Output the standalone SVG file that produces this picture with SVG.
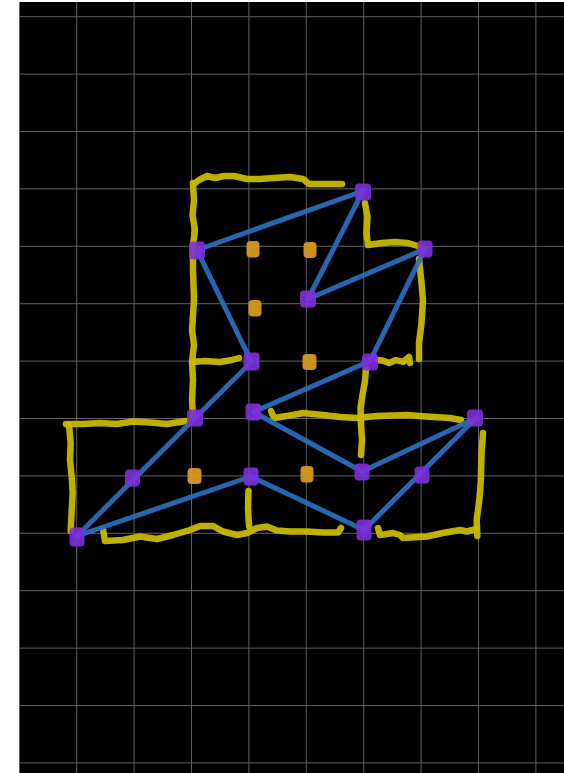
<svg xmlns="http://www.w3.org/2000/svg" width="564" height="773" viewBox="0 0 564 773">
<style>
.grid line{stroke:#616161;stroke-width:1}
.wall{fill:none;stroke:#c9b900;stroke-width:6.5;stroke-linecap:round;stroke-linejoin:round;opacity:0.95}
.edge{stroke:#2b6fc0;stroke-width:5;stroke-linecap:round;opacity:0.92}
.node{fill:#7e30dc;opacity:0.9}
.spot{fill:#d69a1f;opacity:0.95}
</style>
<rect x="0" y="0" width="564" height="773" fill="#ffffff"/>
<rect x="19" y="2" width="545" height="771" fill="#000000"/>
<g class="grid" id="grid">
<line x1="19.5" y1="2" x2="19.5" y2="773"/>
<line x1="76.7" y1="2" x2="76.7" y2="773"/>
<line x1="134.1" y1="2" x2="134.1" y2="773"/>
<line x1="191.5" y1="2" x2="191.5" y2="773"/>
<line x1="248.9" y1="2" x2="248.9" y2="773"/>
<line x1="306.3" y1="2" x2="306.3" y2="773"/>
<line x1="363.7" y1="2" x2="363.7" y2="773"/>
<line x1="421.1" y1="2" x2="421.1" y2="773"/>
<line x1="478.5" y1="2" x2="478.5" y2="773"/>
<line x1="535.9" y1="2" x2="535.9" y2="773"/>
<line x1="19" y1="16.7" x2="564" y2="16.7"/>
<line x1="19" y1="74.1" x2="564" y2="74.1"/>
<line x1="19" y1="131.5" x2="564" y2="131.5"/>
<line x1="19" y1="188.9" x2="564" y2="188.9"/>
<line x1="19" y1="246.3" x2="564" y2="246.3"/>
<line x1="19" y1="303.7" x2="564" y2="303.7"/>
<line x1="19" y1="361.1" x2="564" y2="361.1"/>
<line x1="19" y1="418.5" x2="564" y2="418.5"/>
<line x1="19" y1="475.9" x2="564" y2="475.9"/>
<line x1="19" y1="533.3" x2="564" y2="533.3"/>
<line x1="19" y1="590.7" x2="564" y2="590.7"/>
<line x1="19" y1="648.1" x2="564" y2="648.1"/>
<line x1="19" y1="705.5" x2="564" y2="705.5"/>
<line x1="19" y1="762.9" x2="564" y2="762.9"/>
</g>
<g id="walls">
<polyline class="wall" points="195,183 199,180 207,176 215,178 224,176 234,176 247,179 260,179 273,178 290,177 303,179 309,184 322,184 342,184"/>
<polyline class="wall" points="193,183 194,200 192.5,215 195,230 193,245 193,270 194,300 192,330 194,345 192,362 193,380 192,400 193,416"/>
<polyline class="wall" points="192,362 205,361 220,362 232,360 239,358"/>
<polyline class="wall" points="365,203 367.5,217 366.5,233 368,245 382,243 395,242 408,243 418,246 421,249"/>
<polyline class="wall" points="419,259 421.5,283 423,300 421.5,323 419,343 419,359"/>
<polyline class="wall" points="378,360 384,361 389,363 396,360 403,362 409,357 410,363"/>
<polyline class="wall" points="366,369 365,381 362.5,395 360.5,408 361,425 362,440 361,455"/>
<polyline class="wall" points="271,411 274,418 290,415.5 303,413 323,415 340,417 357,418 377,416 392,415.5 407,415 420,416 433,417 450,418 461,420"/>
<polyline class="wall" points="66,424 83,424 100,423 117,424 133,421.5 150,422.5 167,424 183,421.5 190,420.5"/>
<polyline class="wall" points="69,425 70.7,443 70,460 71.7,477 72.7,493 71.7,510 70.7,531"/>
<polyline class="wall" points="103,529 105,541 123,540 140,536.5 157,539 173,535 190,530 200,526 213,526 223,531.5 237,535 247,533 257,528 267,526.5 277,530.5 290,531.5 307,531.5 323,532.5 338,532.5 341,528"/>
<polyline class="wall" points="248.5,491 248,508 249,526"/>
<polyline class="wall" points="483,433 481.7,450 480.7,483 479.3,500 476.7,520 477.3,536"/>
<polyline class="wall" points="378,528 380,535 393,533 400,535 403,538 427,536.5 443,533 460,530 467,531.5 476,529"/>
</g>
<g id="connectors">
<line class="edge" x1="197" y1="250" x2="363" y2="191"/>
<line class="edge" x1="363" y1="191" x2="308" y2="299"/>
<line class="edge" x1="308" y1="299" x2="425" y2="249"/>
<line class="edge" x1="425" y1="249" x2="370" y2="361"/>
<line class="edge" x1="197" y1="250" x2="251.5" y2="362"/>
<line class="edge" x1="251.5" y1="362" x2="195" y2="418"/>
<line class="edge" x1="195" y1="418" x2="77" y2="536"/>
<line class="edge" x1="370" y1="361" x2="253.5" y2="412"/>
<line class="edge" x1="253.5" y1="412" x2="362" y2="471.5"/>
<line class="edge" x1="362" y1="471.5" x2="476" y2="418"/>
<line class="edge" x1="476" y1="418" x2="364" y2="530"/>
<line class="edge" x1="77" y1="536" x2="251" y2="476.5"/>
<line class="edge" x1="251" y1="476.5" x2="364" y2="530"/>
</g>
<g id="spots">
<g id="spot-1"><rect class="spot" x="246.5" y="241" width="13" height="16.5" rx="4"/></g>
<g id="spot-2"><rect class="spot" x="303.5" y="242" width="13" height="16" rx="4"/></g>
<g id="spot-3"><rect class="spot" x="248.5" y="300" width="13" height="16.5" rx="4"/></g>
<g id="spot-4"><rect class="spot" x="302.5" y="354" width="14" height="16" rx="4"/></g>
<g id="spot-5"><rect class="spot" x="187.5" y="468" width="14" height="16" rx="4"/></g>
<g id="spot-6"><rect class="spot" x="300.5" y="466" width="13" height="16.5" rx="4"/></g>
</g>
<g id="nodes">
<g id="n1"><rect class="node" x="355" y="183.5" width="16" height="17" rx="4"/></g>
<g id="n2"><rect class="node" x="189" y="241.5" width="16" height="18" rx="4"/></g>
<g id="n3"><rect class="node" x="417.5" y="240.5" width="15" height="17" rx="4"/></g>
<g id="n4"><rect class="node" x="300" y="290.5" width="16" height="17" rx="4"/></g>
<g id="n5"><rect class="node" x="243.5" y="352.5" width="16" height="18" rx="4"/></g>
<g id="n6"><rect class="node" x="362" y="353.5" width="16" height="17" rx="4"/></g>
<g id="n7"><rect class="node" x="187" y="409.5" width="16" height="17" rx="4"/></g>
<g id="n8"><rect class="node" x="245.5" y="403.5" width="16" height="17" rx="4"/></g>
<g id="n9"><rect class="node" x="467" y="409.5" width="16" height="17" rx="4"/></g>
<g id="n10"><rect class="node" x="125" y="469.5" width="15" height="17" rx="4"/></g>
<g id="n11"><rect class="node" x="243.5" y="467.5" width="15" height="18" rx="4"/></g>
<g id="n12"><rect class="node" x="354.5" y="463.5" width="15" height="17" rx="4"/></g>
<g id="n13"><rect class="node" x="414.5" y="466.5" width="15" height="17" rx="4"/></g>
<g id="n14"><rect class="node" x="69.5" y="527.5" width="15" height="19" rx="4"/></g>
<g id="n15"><rect class="node" x="356.5" y="519.5" width="15" height="21" rx="4"/></g>
</g>
</svg>
